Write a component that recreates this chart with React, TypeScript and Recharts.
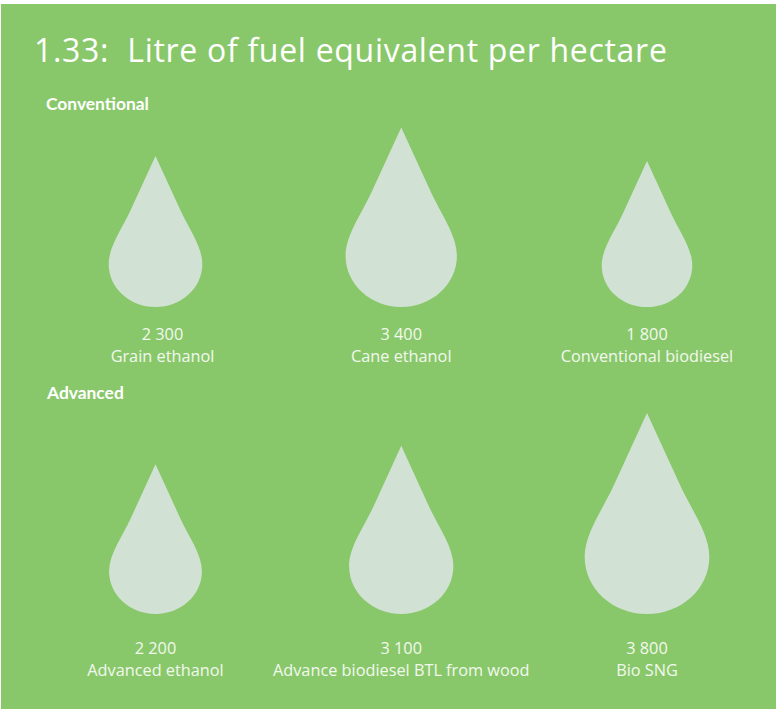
import { Scatter, ScatterChart, XAxis, YAxis, ZAxis } from "recharts"

const conventionalNames = ["Grain ethanol", "Cane ethanol", "Conventional biodiesel"]
const conventionalValues = [2300, 3400, 1800]
const advancedNames = ["Advanced ethanol", "Advance biodiesel BTL from wood", "Bio SNG"]
const advancedValues = [2200, 3100, 3800]

const WIDTH = 776
const HEIGHT = 709
const GREEN = "#89C86A"
const DROP = "#D1E2D5"
const FONT = "'Open Sans', sans-serif"
const HEAD_FONT = "Lato, sans-serif"

// Drawn drops grow faster than the numbers, so z is bent before the area scale
const dropZ = (d: { value: number }) => Math.exp(d.value / 800)

const conventional = conventionalNames.map((name, i) => ({ name, value: conventionalValues[i], col: i, row: 1 }))
const advanced = advancedNames.map((name, i) => ({ name, value: advancedValues[i], col: i, row: 0 }))

const formatValue = (v: number) => String(v).replace(/\B(?=(\d{3})+$)/g, " ")

// the first column's upper labels sit a little off the drop centre in the original
const labelShift: Record<string, number> = { "Grain ethanol": 7 }

const Drop = (props: any) => {
  const { cx, cy, width, payload } = props
  const h = width
  const px = (x: number) => cx + x * h
  const py = (y: number) => cy - h + y * h
  const d = [
    `M${px(0)},${py(0)}`,
    `L${px(0.165)},${py(0.36)}`,
    `C${px(0.22)},${py(0.48)} ${px(0.31)},${py(0.6)} ${px(0.31)},${py(0.715)}`,
    `C${px(0.31)},${py(0.875)} ${px(0.17)},${py(1)} ${px(0)},${py(1)}`,
    `C${px(-0.17)},${py(1)} ${px(-0.31)},${py(0.875)} ${px(-0.31)},${py(0.715)}`,
    `C${px(-0.31)},${py(0.6)} ${px(-0.22)},${py(0.48)} ${px(-0.165)},${py(0.36)}`,
    "Z",
  ].join(" ")
  const lx = cx + (labelShift[payload.name] ?? 0)
  const ly = cy + (payload.row === 0 ? 40 : 33)
  return (
    <g>
      <path d={d} fill={DROP} />
      <text x={lx} y={ly} textAnchor="middle" fill="#F2F8EE" fontFamily={FONT} fontSize={16.3}>
        {formatValue(payload.value)}
      </text>
      <text x={lx} y={ly + 22} textAnchor="middle" fill="#F2F8EE" fontFamily={FONT} fontSize={16.3}>
        {payload.name}
      </text>
    </g>
  )
}

export default function App() {
  return (
    <div style={{ position: "absolute", left: 0, top: 0, width: WIDTH, height: HEIGHT, background: "#fff", overflow: "hidden" }}>
      <div style={{ position: "absolute", left: 1, top: 4, width: WIDTH - 1, height: HEIGHT - 4, background: GREEN }} />
      <div
        style={{
          position: "absolute",
          left: 34,
          top: 29,
          color: "#fff",
          fontFamily: "'Open Sans', sans-serif",
          fontSize: 32,
          letterSpacing: 0.7,
          lineHeight: "42px",
          whiteSpace: "pre",
        }}
      >
        {"1.33:  Litre of fuel equivalent per hectare"}
      </div>
      <div style={{ position: "absolute", left: 46, top: 94, color: "#fff", fontFamily: HEAD_FONT, fontWeight: 700, fontSize: 17.4, lineHeight: "20px" }}>
        Conventional
      </div>
      <div style={{ position: "absolute", left: 47, top: 383, color: "#fff", fontFamily: HEAD_FONT, fontWeight: 700, fontSize: 17.4, lineHeight: "20px" }}>
        Advanced
      </div>
      <div style={{ position: "absolute", left: 0, top: 0 }}>
        <ScatterChart width={WIDTH} height={HEIGHT} margin={{ top: 307, right: WIDTH - 647, bottom: HEIGHT - 614, left: 155.5 }}>
          <XAxis type="number" dataKey="col" domain={[0, 2]} hide />
          <YAxis type="number" dataKey="row" domain={[0, 1]} hide />
          <ZAxis type="number" dataKey={dropZ} domain={[Math.exp(1800 / 800), Math.exp(3800 / 800)]} range={[16742, 31731]} />
          <Scatter data={conventional} shape={Drop} isAnimationActive={false} />
          <Scatter data={advanced} shape={Drop} isAnimationActive={false} />
        </ScatterChart>
      </div>
    </div>
  )
}
